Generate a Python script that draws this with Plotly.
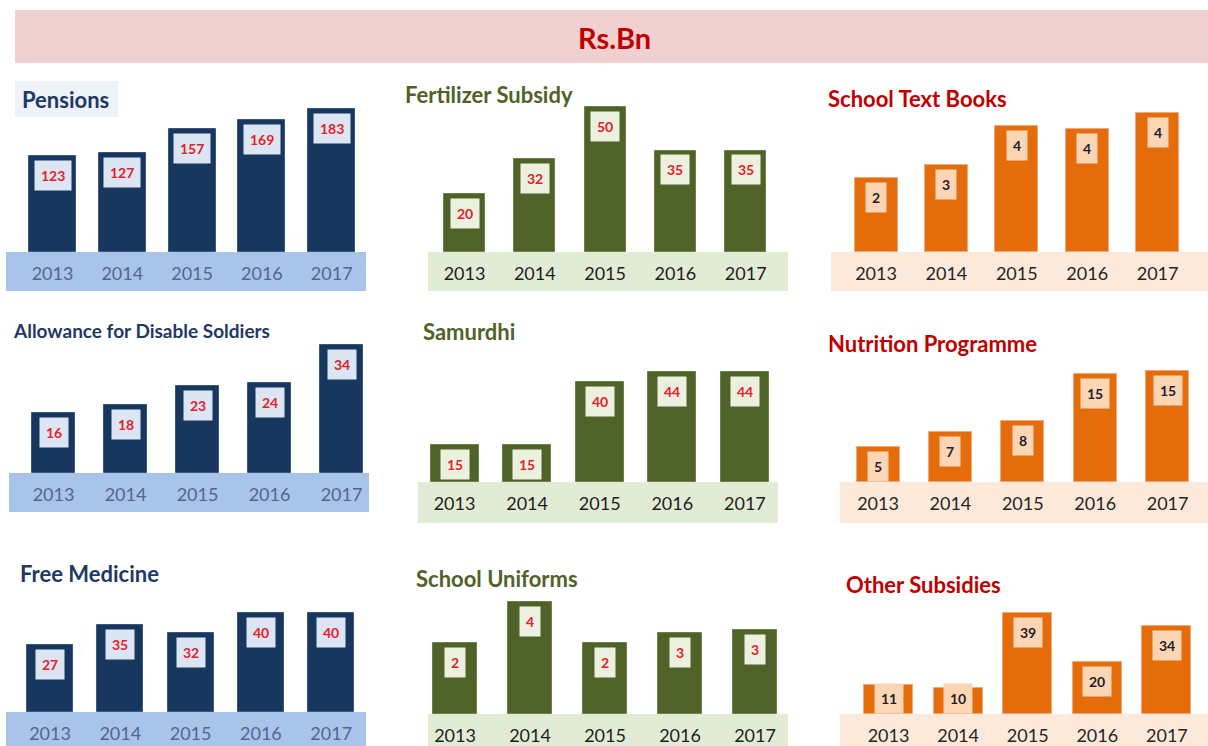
import plotly.graph_objects as go

W, H = 1208, 746
FONT = "Lato"

years = ["2013", "2014", "2015", "2016", "2017"]

pensions = [123, 127, 157, 169, 183]
allowance = [16, 18, 23, 24, 34]
medicine = [27, 35, 32, 40, 40]
fertilizer = [20, 32, 50, 35, 35]
samurdhi = [15, 15, 40, 44, 44]
uniforms = [2.3, 3.6, 2.3, 2.6, 2.7]
textbooks = [2.35, 2.75, 4.0, 3.9, 4.4]
nutrition = [4.8, 6.85, 8.35, 14.8, 15.2]
others = [11, 10, 39, 20, 34]

titles = ["Pensions", "Allowance for Disable Soldiers", "Free Medicine",
          "Fertilizer Subsidy", "Samurdhi", "School Uniforms",
          "School Text Books", "Nutrition Programme", "Other Subsidies"]
series = [pensions, allowance, medicine, fertilizer, samurdhi, uniforms,
          textbooks, nutrition, others]

themes = {
    "navy": dict(bar="#17375E", line="#3B5680", box="#DCE6F2", lab="#E3202B",
                 band="#A9C4E9", year="#51678F", title="#1F3864"),
    "green": dict(bar="#4F6228", line="#6E8049", box="#EBF1DE", lab="#E3202B",
                  band="#E2EBD4", year="#1E1E1E", title="#4F6228"),
    "orange": dict(bar="#E46C0A", line="#F2A878", box="#FCD5B5", lab="#1E1E2A",
                   band="#FDE9DA", year="#262626", title="#C00000"),
}

# layout geometry in pixels: band x0, x1, band top, band bottom, first bar centre,
# bar spacing, bar width, px per unit, title x, title y, title size
geo = [
    ("navy", 6, 366, 252, 291, 52.5, 69.8, 47, 0.7814, 20, 100, 22),
    ("navy", 9, 369, 473, 512, 53.5, 72.0, 43, 3.765, 11, 330, 19),
    ("navy", 6, 366, 712, 760, 50.0, 70.3, 46, 2.475, 18, 573, 22),
    ("green", 428, 788, 252, 291, 464.5, 70.3, 41, 2.9, 403, 95, 22),
    ("green", 418, 778, 482, 523, 454.5, 72.6, 48, 2.5, 421, 331, 22),
    ("green", 428, 788, 714, 760, 455.0, 75.0, 44, 31.0, 414, 578, 22),
    ("orange", 831, 1208, 252, 291, 876.0, 70.4, 43, 31.6, 826, 99, 22),
    ("orange", 840, 1208, 482, 523, 878.0, 72.4, 43, 7.3, 826, 343, 22),
    ("orange", 840, 1208, 714, 760, 888.5, 69.6, 49, 2.6, 844, 584, 22),
]

fig = go.Figure()
shapes = []
annotations = []
layout = {}

# banner
shapes.append(dict(type="rect", xref="paper", yref="paper", x0=15 / W, x1=1.0,
                   y0=1 - 63 / H, y1=1 - 10 / H, fillcolor="#F0D0D0",
                   line=dict(width=0), layer="below"))
annotations.append(dict(text="<b>Rs.Bn</b>", xref="paper", yref="paper",
                        x=614 / W, y=1 - 37 / H, xanchor="center",
                        yanchor="middle", showarrow=False,
                        font=dict(family=FONT, size=29, color="#C00000")))
# Pensions title background
shapes.append(dict(type="rect", xref="paper", yref="paper", x0=15 / W, x1=118 / W,
                   y0=1 - 117 / H, y1=1 - 81 / H, fillcolor="#EEF3F9",
                   line=dict(width=0), layer="below"))

BOX_H = 28
for i, (th, bx0, bx1, btop, bbot, c0, sp, bw, k, tx, ty, ts) in enumerate(geo):
    t = themes[th]
    vals = series[i]
    n = i + 1
    xa = "x" if n == 1 else f"x{n}"
    ya = "y" if n == 1 else f"y{n}"
    plot_top = btop - 170
    a = -(c0 - bx0) / sp
    b = a + (bx1 - bx0) / sp
    fig.add_trace(go.Bar(x=years, y=vals, xaxis=xa, yaxis=ya,
                         width=bw / sp, marker=dict(color=t["bar"],
                         line=dict(color=t["line"], width=1)),
                         hoverinfo="x+y", showlegend=False))
    layout["xaxis" if n == 1 else f"xaxis{n}"] = dict(
        domain=[bx0 / W, bx1 / W], anchor=ya, type="category",
        range=[a, b], showgrid=False, zeroline=False, showline=False,
        ticks="", ticklabelstandoff=9, fixedrange=True,
        tickfont=dict(family=FONT, size=18, color=t["year"]))
    layout["yaxis" if n == 1 else f"yaxis{n}"] = dict(
        domain=[1 - btop / H, 1 - plot_top / H], anchor=xa,
        range=[0, (btop - plot_top) / k], showgrid=False, zeroline=False,
        showline=False, showticklabels=False, ticks="", fixedrange=True)
    # band
    shapes.append(dict(type="rect", xref="paper", yref="paper",
                       x0=bx0 / W, x1=bx1 / W, y0=1 - bbot / H, y1=1 - btop / H,
                       fillcolor=t["band"], line=dict(width=0), layer="below"))
    # title
    annotations.append(dict(text=f"<b>{titles[i]}</b>", xref="paper", yref="paper",
                            x=tx / W, y=1 - ty / H, xanchor="left",
                            yanchor="middle", showarrow=False,
                            font=dict(family=FONT, size=ts, color=t["title"])))
    # value labels
    ymin = (BOX_H + 7) / k
    for j, v in enumerate(vals):
        annotations.append(dict(
            text=f"<b>{int(round(v))}</b>", xref=xa, yref=ya, x=j, y=max(v, ymin),
            xanchor="center", yanchor="top", yshift=-4, showarrow=False,
            bgcolor=t["box"], borderpad=6,
            font=dict(family=FONT, size=14, color=t["lab"])))

fig.update_layout(width=W, height=H, margin=dict(l=0, r=0, t=0, b=0),
                  paper_bgcolor="white", plot_bgcolor="rgba(0,0,0,0)",
                  shapes=shapes, annotations=annotations, bargap=0,
                  font=dict(family=FONT), **layout)

fig.write_html("out.html", post_script="document.body.style.margin='0';",
               config={"displayModeBar": False})
